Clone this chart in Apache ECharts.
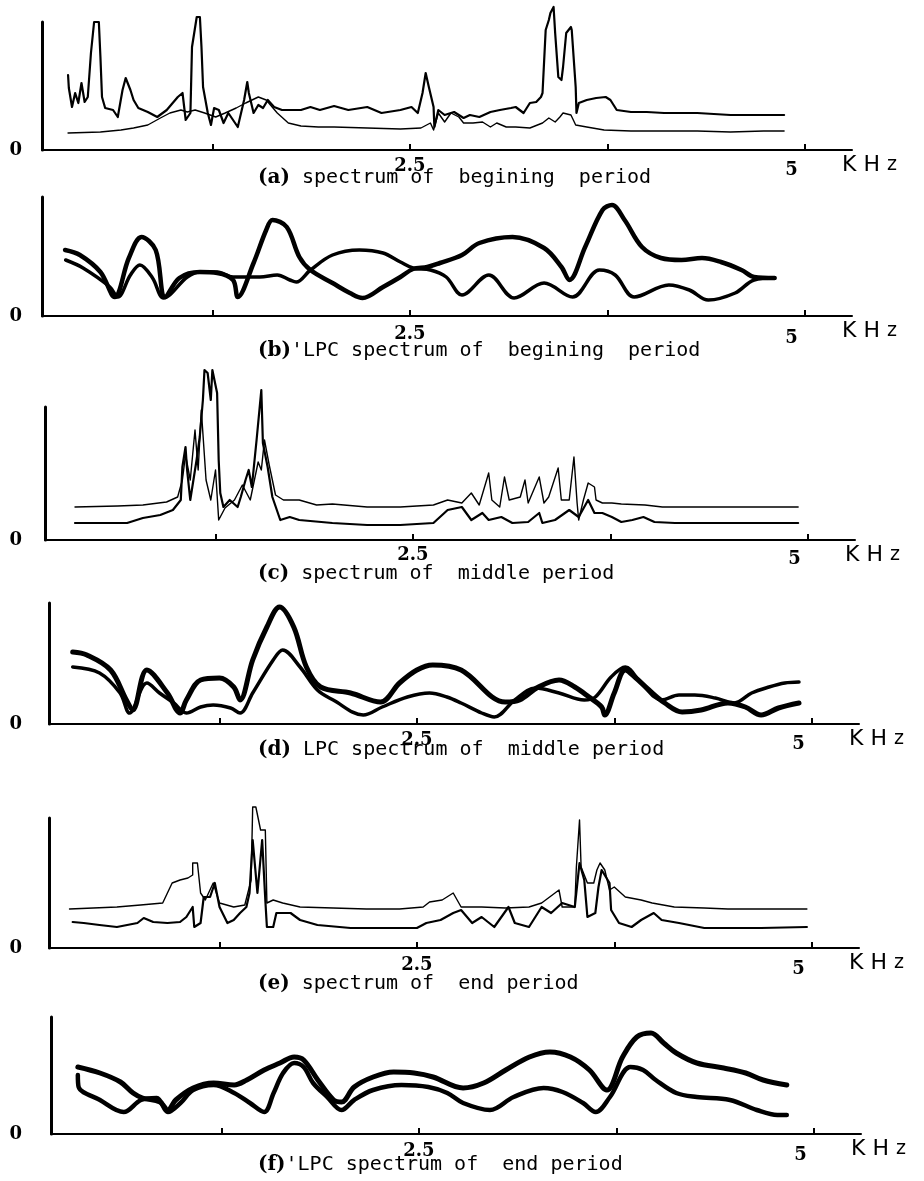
<!DOCTYPE html>
<html><head><meta charset="utf-8">
<script src="https://cdn.jsdelivr.net/npm/echarts@6.0.0/dist/echarts.min.js"></script>
<style>html,body{margin:0;padding:0;background:#fff}#c{width:924px;height:1181px}</style>
</head><body><div id="c"></div>
<script>
// ---------- tick labels / captions ----------
const tickValues = [1.25, 2.5, 3.75, 5];
const labelValues = [2.5, 5];
const captions = [
  ['a', ' spectrum of  begining  period'],
  ['b', "'LPC spectrum of  begining  period"],
  ['c', ' spectrum of  middle period'],
  ['d', ' LPC spectrum of  middle period'],
  ['e', ' spectrum of  end period'],
  ['f', "'LPC spectrum of  end period"]
];
// ---------- data: [kHz, relative amplitude] ----------
const specBeginA = [[0.335,75],[0.34,62],[0.36,43],[0.38,57],[0.40,47],[0.42,67],[0.44,48],[0.46,53],[0.48,97],[0.50,128],[0.53,128],[0.54,93],[0.55,53],[0.57,42],[0.62,40],[0.65,33],[0.68,60],[0.70,72],[0.73,60],[0.75,50],[0.78,42],[0.84,38],[0.90,33],[0.96,40],[1.03,53],[1.06,57],[1.08,30],[1.11,37],[1.12,103],[1.15,133],[1.17,133],[1.18,103],[1.19,63],[1.22,37],[1.24,25],[1.26,42],[1.29,40],[1.32,27],[1.35,37],[1.38,30],[1.41,23],[1.45,50],[1.47,68],[1.48,57],[1.51,37],[1.54,45],[1.57,42],[1.60,50],[1.64,43],[1.69,40],[1.81,40],[1.87,43],[1.93,40],[2.02,44],[2.11,40],[2.23,43],[2.32,37],[2.44,40],[2.51,43],[2.55,37],[2.58,57],[2.60,77],[2.62,63],[2.65,43],[2.655,23],[2.68,40],[2.72,35],[2.78,38],[2.84,32],[2.88,35],[2.94,33],[3.01,38],[3.07,40],[3.14,42],[3.17,43],[3.22,37],[3.26,47],[3.30,48],[3.33,53],[3.34,57],[3.36,120],[3.38,130],[3.39,137],[3.41,143],[3.42,117],[3.44,73],[3.46,70],[3.47,83],[3.49,117],[3.52,123],[3.525,120],[3.55,63],[3.555,37],[3.57,47],[3.62,50],[3.68,52],[3.74,53],[3.77,50],[3.81,40],[3.90,38],[4.00,38],[4.11,37],[4.32,37],[4.53,35],[4.74,35],[4.87,35]];
const specBeginB = [[0.335,17],[0.54,18],[0.67,20],[0.75,22],[0.84,25],[0.92,32],[0.98,37],[1.05,40],[1.09,38],[1.14,40],[1.20,37],[1.27,33],[1.33,37],[1.40,42],[1.46,47],[1.54,53],[1.59,50],[1.66,37],[1.73,27],[1.81,24],[1.92,23],[2.02,23],[2.23,22],[2.44,21],[2.57,22],[2.63,27],[2.65,20],[2.68,37],[2.72,28],[2.76,37],[2.81,33],[2.84,27],[2.90,27],[2.96,28],[3.01,23],[3.05,27],[3.11,23],[3.17,23],[3.26,22],[3.34,27],[3.38,32],[3.42,28],[3.45,33],[3.47,37],[3.52,35],[3.55,25],[3.62,23],[3.73,20],[3.90,19],[4.32,19],[4.53,18],[4.74,19],[4.87,19]];
const lpcBeginA = [[0.316,66],[0.41,61],[0.54,44],[0.63,19],[0.72,58],[0.80,79],[0.89,66],[0.95,19],[1.04,38],[1.17,44],[1.28,43],[1.38,36],[1.41,19],[1.51,53],[1.59,86],[1.63,96],[1.72,89],[1.80,59],[1.87,46],[2.01,33],[2.12,23],[2.20,18],[2.33,29],[2.44,39],[2.52,47],[2.61,49],[2.69,53],[2.83,61],[2.94,73],[3.15,79],[3.35,68],[3.46,49],[3.51,36],[3.61,69],[3.72,106],[3.78,111],[3.86,96],[3.97,69],[4.09,58],[4.22,56],[4.35,58],[4.47,54],[4.60,46],[4.68,39],[4.81,38]];
const lpcBeginB = [[0.32,56],[0.43,48],[0.60,29],[0.65,19],[0.73,41],[0.79,51],[0.87,38],[0.94,18],[1.09,39],[1.17,44],[1.28,44],[1.38,39],[1.55,39],[1.66,41],[1.74,36],[1.78,34],[1.87,46],[2.01,61],[2.18,66],[2.33,63],[2.44,54],[2.52,48],[2.63,46],[2.73,39],[2.83,21],[3.00,41],[3.16,18],[3.35,33],[3.53,19],[3.70,46],[3.80,41],[3.92,19],[4.14,31],[4.27,26],[4.39,16],[4.56,23],[4.68,36],[4.81,38]];
const specMiddleA = [[0.36,17],[0.69,17],[0.79,22],[0.90,25],[0.98,30],[1.03,40],[1.04,73],[1.06,93],[1.07,70],[1.09,40],[1.13,80],[1.15,103],[1.17,140],[1.18,170],[1.20,167],[1.22,140],[1.23,170],[1.26,147],[1.27,80],[1.28,47],[1.30,33],[1.34,40],[1.39,33],[1.41,43],[1.44,60],[1.46,70],[1.48,53],[1.51,100],[1.54,150],[1.55,97],[1.58,73],[1.59,63],[1.61,43],[1.66,20],[1.72,23],[1.78,20],[1.99,17],[2.21,15],[2.42,15],[2.63,17],[2.72,30],[2.81,33],[2.87,20],[2.94,27],[2.98,20],[3.06,23],[3.13,17],[3.23,18],[3.30,27],[3.32,17],[3.40,20],[3.49,30],[3.55,23],[3.61,40],[3.65,27],[3.70,27],[3.76,23],[3.82,18],[3.89,20],[3.96,23],[4.03,18],[4.16,17],[4.50,17],[4.94,17]];
const specMiddleB = [[0.36,33],[0.63,34],[0.79,35],[0.94,38],[1.01,43],[1.04,60],[1.06,85],[1.09,60],[1.12,110],[1.14,70],[1.16,130],[1.19,60],[1.22,40],[1.25,70],[1.27,20],[1.31,32],[1.37,40],[1.42,55],[1.47,40],[1.52,78],[1.54,70],[1.56,100],[1.59,75],[1.63,45],[1.68,40],[1.74,40],[1.78,40],[1.89,35],[1.99,36],[2.21,33],[2.42,33],[2.63,35],[2.72,40],[2.81,37],[2.87,47],[2.92,35],[2.98,67],[3.00,40],[3.05,33],[3.08,63],[3.11,40],[3.18,43],[3.21,60],[3.23,37],[3.30,63],[3.33,37],[3.36,43],[3.42,72],[3.44,40],[3.49,40],[3.52,83],[3.54,37],[3.55,20],[3.58,40],[3.61,57],[3.65,53],[3.66,40],[3.70,37],[3.76,37],[3.82,36],[3.97,35],[4.08,33],[4.50,33],[4.94,33]];
const lpcMiddleA = [[0.32,72],[0.41,69],[0.56,54],[0.66,24],[0.70,14],[0.79,54],[0.92,31],[1.00,11],[1.04,24],[1.13,44],[1.25,46],[1.34,37],[1.38,24],[1.46,64],[1.55,97],[1.63,117],[1.72,97],[1.80,57],[1.89,37],[2.08,31],[2.27,22],[2.39,41],[2.50,54],[2.60,59],[2.78,54],[3.06,22],[3.15,24],[3.27,37],[3.40,44],[3.50,37],[3.59,27],[3.67,17],[3.69,9],[3.75,31],[3.82,54],[3.88,47],[3.97,34],[4.07,21],[4.18,12],[4.30,14],[4.47,21],[4.58,17],[4.68,9],[4.79,16],[4.92,21]];
const lpcMiddleB = [[0.32,57],[0.49,51],[0.62,31],[0.68,11],[0.79,41],[0.87,31],[0.96,21],[1.04,11],[1.13,17],[1.21,19],[1.32,16],[1.38,11],[1.46,31],[1.59,64],[1.65,74],[1.76,57],[1.87,34],[1.97,24],[2.16,9],[2.28,17],[2.44,27],[2.58,31],[2.69,27],[2.78,21],[2.91,11],[2.99,7],[3.12,24],[3.25,36],[3.40,31],[3.56,24],[3.63,27],[3.73,47],[3.82,57],[3.92,41],[4.05,24],[4.16,29],[4.26,29],[4.39,26],[4.51,21],[4.62,31],[4.73,37],[4.83,41],[4.92,42]];
const specEndA = [[0.32,26],[0.39,25],[0.49,23],[0.60,21],[0.73,25],[0.77,30],[0.83,26],[0.92,25],[1.00,26],[1.04,31],[1.08,41],[1.09,21],[1.13,25],[1.15,51],[1.19,51],[1.22,65],[1.25,41],[1.30,25],[1.34,28],[1.38,35],[1.42,41],[1.44,55],[1.46,108],[1.49,55],[1.52,108],[1.54,48],[1.55,21],[1.59,21],[1.61,35],[1.70,35],[1.76,28],[1.87,23],[2.08,20],[2.28,20],[2.50,20],[2.56,25],[2.65,28],[2.73,35],[2.78,38],[2.85,25],[2.91,31],[2.99,21],[3.08,41],[3.12,25],[3.21,21],[3.29,41],[3.35,35],[3.42,45],[3.50,41],[3.53,85],[3.56,68],[3.58,31],[3.63,35],[3.65,61],[3.67,78],[3.72,65],[3.73,38],[3.78,25],[3.86,21],[3.92,28],[4.00,35],[4.05,28],[4.16,25],[4.32,20],[4.68,20],[4.97,21]];
const specEndB = [[0.30,39],[0.60,41],[0.75,43],[0.89,45],[0.92,55],[0.95,65],[1.00,68],[1.05,70],[1.08,73],[1.08,85],[1.11,85],[1.13,55],[1.16,48],[1.21,65],[1.25,45],[1.34,41],[1.41,43],[1.45,68],[1.46,141],[1.48,141],[1.51,118],[1.54,118],[1.55,45],[1.59,48],[1.65,45],[1.76,41],[1.97,40],[2.18,39],[2.39,39],[2.54,41],[2.58,46],[2.66,48],[2.73,55],[2.78,41],[2.91,41],[3.06,40],[3.21,41],[3.29,45],[3.40,58],[3.42,41],[3.50,41],[3.51,81],[3.53,128],[3.54,81],[3.58,65],[3.62,65],[3.64,78],[3.66,85],[3.69,78],[3.72,58],[3.75,61],[3.82,51],[3.92,48],[3.99,45],[4.13,41],[4.32,40],[4.47,39],[4.68,39],[4.97,39]];
const lpcEndA = [[0.34,67],[0.48,61],[0.61,52],[0.69,41],[0.75,36],[0.86,32],[0.91,24],[0.96,34],[1.07,46],[1.20,51],[1.33,49],[1.41,54],[1.52,64],[1.62,71],[1.71,77],[1.77,74],[1.86,54],[1.96,34],[2.01,32],[2.09,47],[2.21,57],[2.34,62],[2.47,61],[2.59,57],[2.78,46],[2.91,51],[3.05,64],[3.20,77],[3.33,82],[3.46,77],[3.58,64],[3.69,44],[3.79,77],[3.88,97],[3.97,101],[4.05,91],[4.13,81],[4.26,71],[4.43,66],[4.57,61],[4.68,54],[4.83,49]];
const lpcEndB = [[0.34,59],[0.345,47],[0.48,34],[0.63,22],[0.74,34],[0.84,36],[0.91,22],[0.99,31],[1.07,44],[1.20,49],[1.33,41],[1.43,31],[1.52,22],[1.58,41],[1.64,61],[1.71,71],[1.77,67],[1.83,51],[1.92,37],[2.01,24],[2.09,34],[2.21,44],[2.39,49],[2.56,47],[2.68,41],[2.78,31],[2.95,24],[3.10,37],[3.29,46],[3.41,42],[3.54,31],[3.62,22],[3.71,37],[3.84,67],[3.92,64],[4.00,54],[4.13,41],[4.26,37],[4.47,34],[4.64,24],[4.77,19],[4.83,19]];

const panelSeries = [
  [specBeginA, specBeginB],
  [lpcBeginA, lpcBeginB],
  [specMiddleA, specMiddleB],
  [lpcMiddleA, lpcMiddleB],
  [specEndA, specEndB],
  [lpcEndA, lpcEndB]
];

// ---------- layout ----------
const layout = [
  {left:42, top:22,  h:128, lblMargin:7,  zeroShift:6,  capTop:168, widths:[2.2,1.4], smooth:false},
  {left:42, top:197, h:119, lblMargin:9,  zeroShift:3,  capTop:341, widths:[4.5,3.5], smooth:0.35},
  {left:45, top:407, h:133, lblMargin:6,  zeroShift:0,  capTop:564, widths:[2.2,1.4], smooth:false},
  {left:49, top:603, h:121, lblMargin:7,  zeroShift:0,  capTop:740, widths:[5,3.5], smooth:0.35},
  {left:49, top:818, h:130, lblMargin:8,  zeroShift:-4, capTop:974, widths:[2.2,1.4], smooth:false},
  {left:51, top:1017,h:117, lblMargin:8,  zeroShift:1,  capTop:1155, widths:[5,4.5], smooth:0.35}
];
const plotWidth = 810;

const grids = [], xAxes = [], yAxes = [], series = [], titles = [];
layout.forEach((L, i) => {
  grids.push({left: L.left, top: L.top, width: plotWidth, height: L.h, containLabel: false});
  xAxes.push({
    gridIndex: i, type: 'value', min: 0.17, max: 5.3,
    axisLine: {show: true, onZero: false, lineStyle: {color: '#000', width: 2}},
    axisTick: {show: true, inside: true, length: 6, customValues: tickValues, lineStyle: {color: '#000', width: 2}},
    splitLine: {show: false},
    axisLabel: {
      customValues: labelValues, margin: L.lblMargin, color: '#000',
      formatter: v => (v === 5 ? '{f|5}' : '{t|2.5}'),
      rich: {
        t: {fontFamily: 'DejaVu Serif', fontWeight: 'bold', fontSize: 18, color: '#000'},
        f: {fontFamily: 'DejaVu Serif', fontWeight: 'bold', fontSize: 18, color: '#000', padding: [4, 26, 0, 0]}
      }
    },
    name: '{k|K}{h|H}{z|z}', nameLocation: 'end', nameGap: -10,
    nameTextStyle: {
      verticalAlign: 'middle', align: 'left', padding: [30, 0, 0, 0],
      rich: {
        k: {fontFamily: 'DejaVu Sans', fontSize: 22, color: '#000', padding: [0, 7, 0, 0]},
        h: {fontFamily: 'DejaVu Sans', fontSize: 22, color: '#000', padding: [0, 7, 0, 0]},
        z: {fontFamily: 'DejaVu Sans', fontSize: 19, color: '#000'}
      }
    }
  });
  yAxes.push({
    gridIndex: i, type: 'value', min: 0, max: L.h,
    axisLine: {show: true, lineStyle: {color: '#000', width: 3}},
    axisTick: {show: false}, splitLine: {show: false},
    axisLabel: {
      customValues: [0], formatter: () => '0', margin: L.left - 22,
      fontFamily: 'DejaVu Serif', fontWeight: 'bold', fontSize: 18, color: '#000',
      padding: L.zeroShift >= 0 ? [2 * L.zeroShift, 0, 0, 0] : [0, 0, -2 * L.zeroShift, 0]
    }
  });
  panelSeries[i].forEach((d, j) => {
    series.push({
      type: 'line', xAxisIndex: i, yAxisIndex: i, data: d,
      symbol: 'none', smooth: L.smooth, clip: false, animation: false,
      lineStyle: {color: '#000', width: L.widths[j], join: 'round', cap: 'round'}
    });
  });
  titles.push({
    text: '{p|(}{b|' + captions[i][0] + '}{p|)}' + captions[i][1],
    left: 258, top: L.capTop, padding: 0,
    textStyle: {
      fontFamily: 'DejaVu Sans Mono', fontSize: 20, fontWeight: 'normal', color: '#000',
      rich: {
        p: {fontFamily: 'DejaVu Serif', fontWeight: 'bold', fontSize: 20, color: '#000'},
        b: {fontFamily: 'DejaVu Serif', fontWeight: 'bold', fontSize: 20, color: '#000'}
      }
    }
  });
});

const chart = echarts.init(document.getElementById('c'), null, {renderer: 'canvas'});
chart.setOption({
  backgroundColor: '#fff', animation: false,
  title: titles, grid: grids, xAxis: xAxes, yAxis: yAxes, series: series
});
</script></body></html>
